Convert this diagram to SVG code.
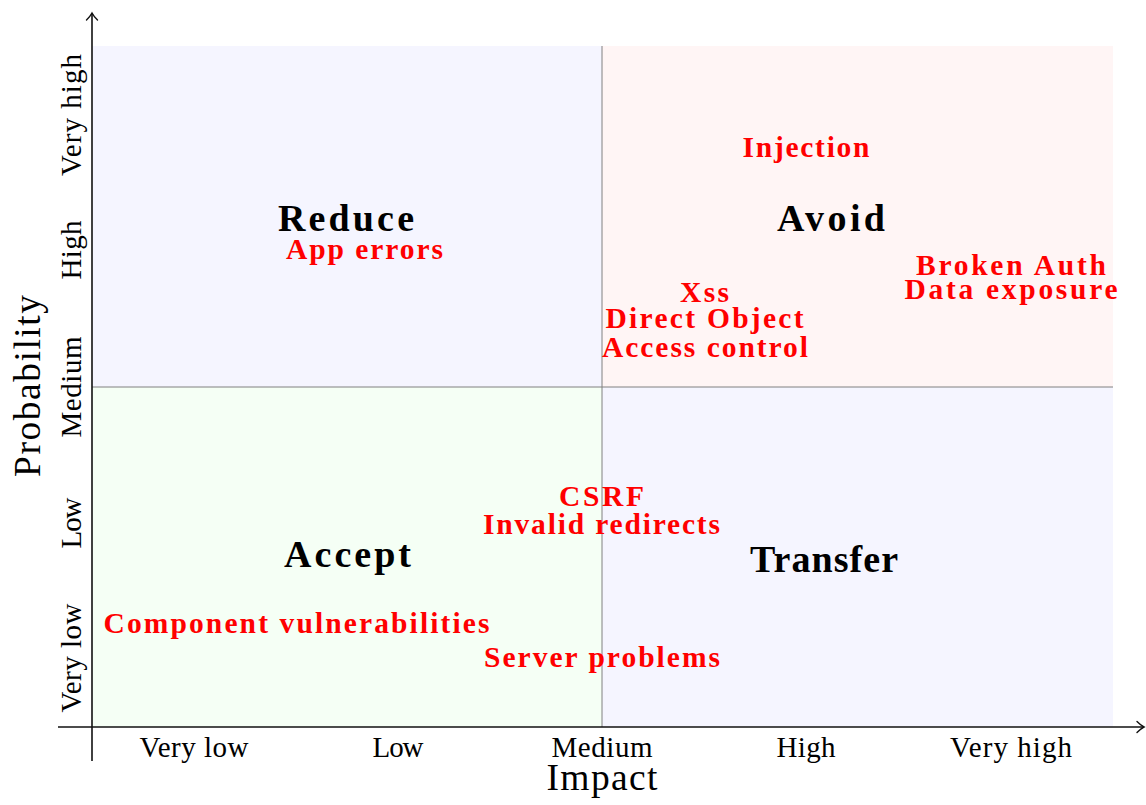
<svg xmlns="http://www.w3.org/2000/svg" width="1146" height="805" viewBox="0 0 1146 805">
  <style>
    text { font-family: "Liberation Serif", "DejaVu Serif", serif; }
    .tick { font-size: 29px; fill: #000; text-anchor: middle; }
    .title { font-size: 37.5px; fill: #000; text-anchor: middle; }
    .zone { font-size: 38px; font-weight: bold; fill: #000; text-anchor: middle; }
    .risk { font-size: 29.5px; font-weight: bold; fill: #ff0000; text-anchor: middle; }
    .axis { stroke: #111; stroke-width: 1.6; fill: none; }
    .divider { stroke: #808080; stroke-width: 1; fill: none; }
  </style>
  <defs>
    <marker id="arrow" markerWidth="12" markerHeight="14" refX="10" refY="7" orient="auto" markerUnits="userSpaceOnUse">
      <path d="M 3 1.5 Q 7 5.5 10 7 Q 7 8.5 3 12.5" fill="none" stroke="#111" stroke-width="1.4" stroke-linecap="round"/>
    </marker>
  </defs>

  <rect width="1146" height="805" fill="#ffffff"/>

  <!-- quadrant backgrounds -->
  <g id="quadrants">
    <rect id="q-reduce" x="92" y="46" width="510" height="341" fill="#f5f5ff"/>
    <rect id="q-avoid" x="602" y="46" width="511" height="341" fill="#fff5f5"/>
    <rect id="q-accept" x="92" y="387" width="510" height="340" fill="#f5fff5"/>
    <rect id="q-transfer" x="602" y="387" width="511" height="340" fill="#f5f5ff"/>
  </g>

  <!-- axes and quadrant dividers -->
  <g id="connectors">
    <line class="divider" x1="602" y1="46" x2="602" y2="727"/>
    <line class="divider" x1="92" y1="387" x2="1113" y2="387"/>
    <line class="axis" x1="92" y1="761" x2="92" y2="13" marker-end="url(#arrow)"/>
    <line class="axis" x1="58" y1="727" x2="1144" y2="727" marker-end="url(#arrow)"/>
  </g>

  <!-- impact scale -->
  <g id="impact-axis">
    <text class="tick" x="194" y="757" textLength="109">Very low</text>
    <text class="tick" x="398" y="757" textLength="51">Low</text>
    <text class="tick" x="602" y="757" textLength="101">Medium</text>
    <text class="tick" x="806" y="757" textLength="59">High</text>
    <text class="tick" x="1011" y="757" textLength="122">Very high</text>
    <text class="title" x="602" y="790" textLength="111">Impact</text>
  </g>

  <!-- probability scale -->
  <g id="probability-axis">
    <text class="tick" transform="translate(81,115) rotate(-90)" textLength="122">Very high</text>
    <text class="tick" transform="translate(81,250) rotate(-90)" textLength="59">High</text>
    <text class="tick" transform="translate(81,387) rotate(-90)" textLength="101">Medium</text>
    <text class="tick" transform="translate(81,523) rotate(-90)" textLength="51">Low</text>
    <text class="tick" transform="translate(81,658) rotate(-90)" textLength="109">Very low</text>
    <text class="title" transform="translate(40,386) rotate(-90)" textLength="182">Probability</text>
  </g>

  <!-- strategy labels -->
  <g id="reduce"><text class="zone" x="346" y="231" textLength="136">Reduce</text></g>
  <g id="avoid"><text class="zone" x="831" y="230.5" textLength="108">Avoid</text></g>
  <g id="accept"><text class="zone" x="347.5" y="566.5" textLength="127">Accept</text></g>
  <g id="transfer"><text class="zone" x="824" y="571.5" textLength="148">Transfer</text></g>

  <!-- risks -->
  <g id="injection"><text class="risk" x="806" y="157" textLength="127">Injection</text></g>
  <g id="app-errors"><text class="risk" x="364.5" y="259" textLength="157">App errors</text></g>
  <g id="broken-auth"><text class="risk" x="1011" y="274.5" textLength="190">Broken Auth</text></g>
  <g id="data-exposure"><text class="risk" x="1011" y="298.5" textLength="213">Data exposure</text></g>
  <g id="xss"><text class="risk" x="704.5" y="302" textLength="49">Xss</text></g>
  <g id="access-control">
    <text class="risk" x="704.5" y="328" textLength="198">Direct Object</text>
    <text class="risk" x="705" y="357" textLength="206">Access control</text>
  </g>
  <g id="csrf"><text class="risk" x="601.5" y="506" textLength="85">CSRF</text></g>
  <g id="invalid-redirects"><text class="risk" x="601.5" y="533.5" textLength="237">Invalid redirects</text></g>
  <g id="component-vulnerabilities"><text class="risk" x="296.5" y="633" textLength="386">Component vulnerabilities</text></g>
  <g id="server-problems"><text class="risk" x="602" y="667" textLength="236">Server problems</text></g>
</svg>
